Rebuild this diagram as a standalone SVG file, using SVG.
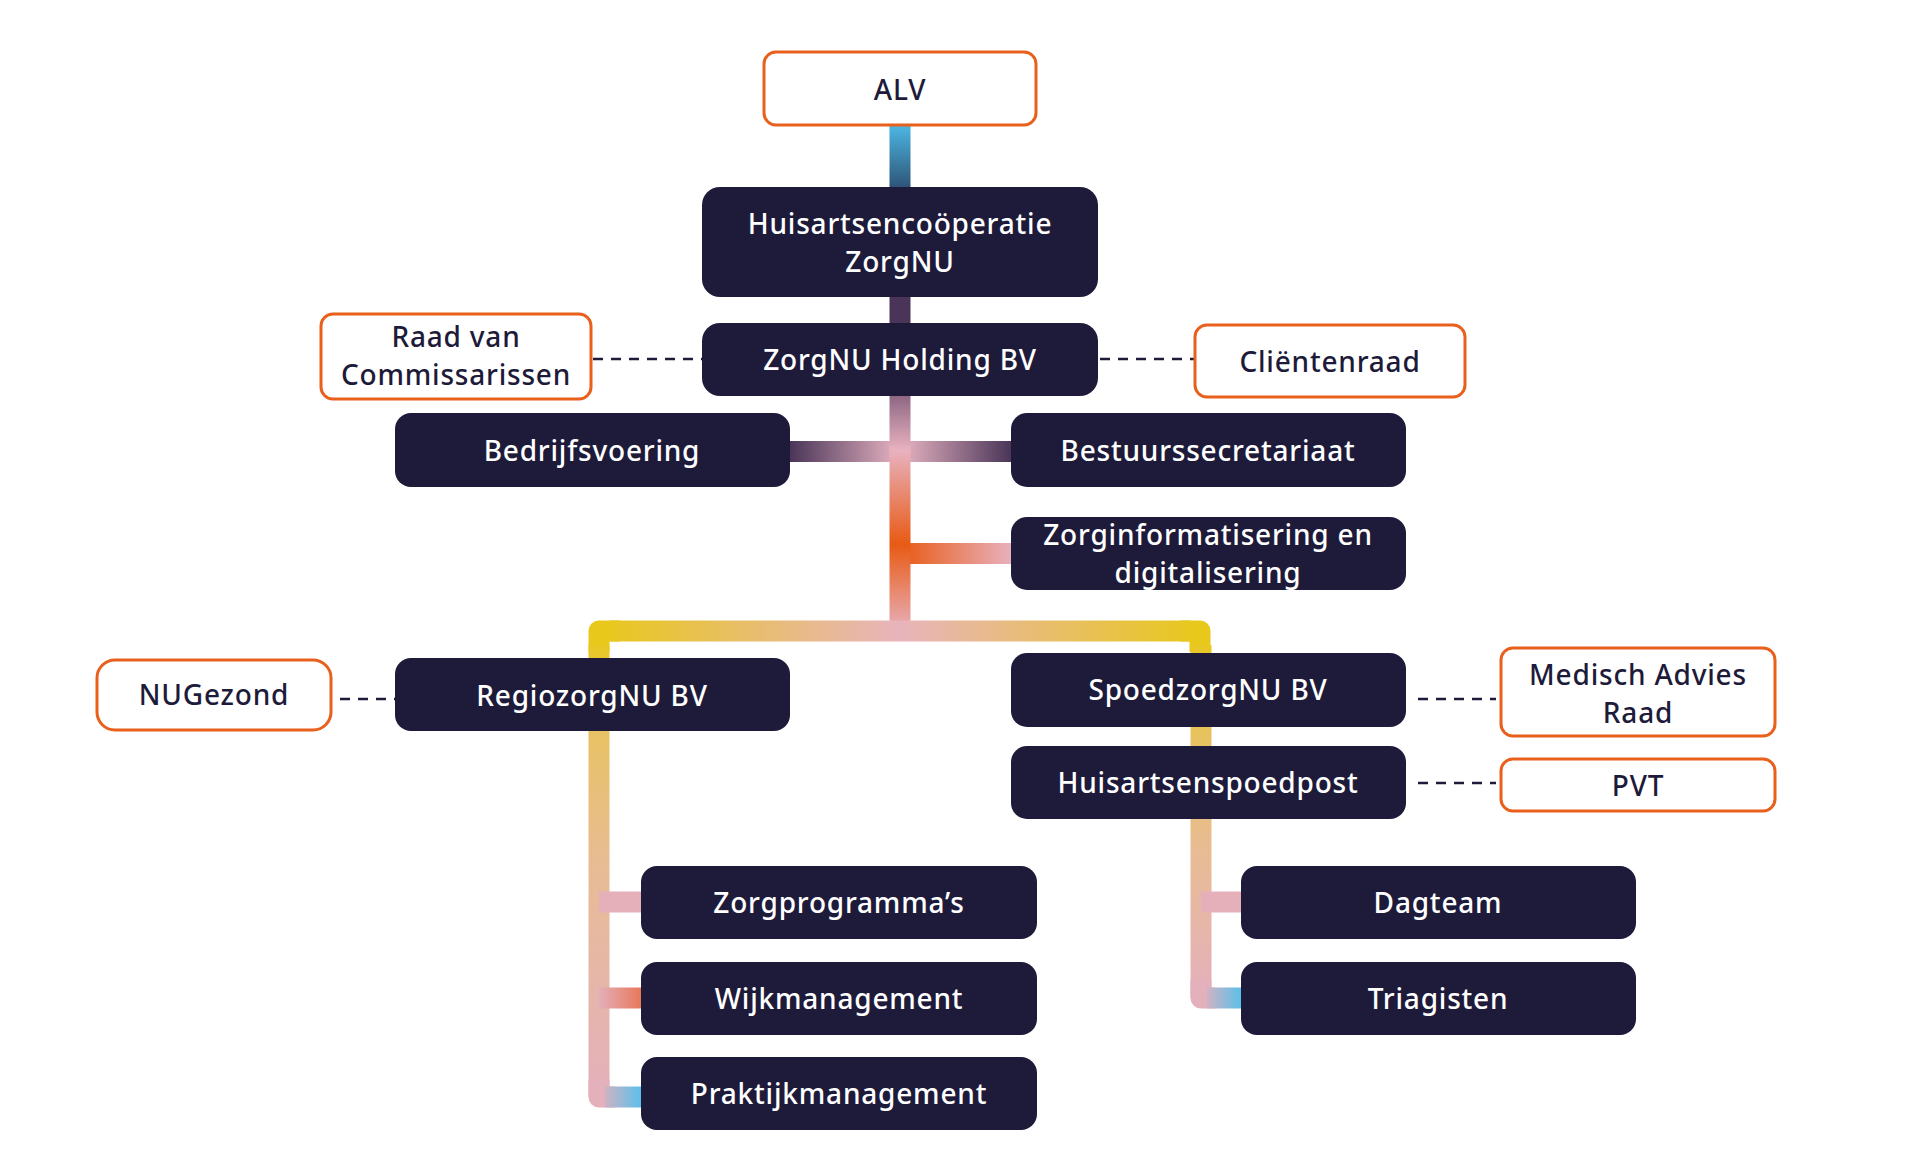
<svg xmlns="http://www.w3.org/2000/svg" width="1920" height="1174" viewBox="0 0 1920 1174">
<style>
.dark{fill:#1e1b3a}
.light{fill:#ffffff;stroke:#e8601c;stroke-width:3}
text{font-family:"Noto Sans","DejaVu Sans",sans-serif;font-size:28px;font-weight:500;letter-spacing:0.8px;text-anchor:middle;dominant-baseline:central}
.tw{fill:#ffffff}
.td{fill:#1e1b3a}
.dash{stroke:#1e1b3a;stroke-width:2.5;stroke-dasharray:10 8;fill:none}
.c{fill:none;stroke-width:21}
</style>
<defs>
<linearGradient id="gAlv" gradientUnits="userSpaceOnUse" x1="0" y1="126" x2="0" y2="187"><stop offset="0" stop-color="#4cb6e2"/><stop offset="1" stop-color="#2e5578"/></linearGradient>
<linearGradient id="gTrunk" gradientUnits="userSpaceOnUse" x1="0" y1="396" x2="0" y2="631"><stop offset="0" stop-color="#8e6784"/><stop offset="0.23" stop-color="#e8b2c0"/><stop offset="0.63" stop-color="#e85a14"/><stop offset="1" stop-color="#e8b0bc"/></linearGradient>
<linearGradient id="gBar" gradientUnits="userSpaceOnUse" x1="790" y1="0" x2="1011" y2="0"><stop offset="0" stop-color="#4a3558"/><stop offset="0.5" stop-color="#e8b4c2"/><stop offset="1" stop-color="#4a3558"/></linearGradient>
<linearGradient id="gInfo" gradientUnits="userSpaceOnUse" x1="900" y1="0" x2="1011" y2="0"><stop offset="0" stop-color="#e85a14"/><stop offset="1" stop-color="#e8b0bc"/></linearGradient>
<linearGradient id="gBus" gradientUnits="userSpaceOnUse" x1="599" y1="0" x2="1200" y2="0"><stop offset="0" stop-color="#e8c81a"/><stop offset="0.5" stop-color="#e8b4bc"/><stop offset="1" stop-color="#e8c81a"/></linearGradient>
<linearGradient id="gLeft" gradientUnits="userSpaceOnUse" x1="0" y1="631" x2="0" y2="1097"><stop offset="0" stop-color="#e8c81a"/><stop offset="0.2" stop-color="#e8c262"/><stop offset="0.5" stop-color="#e8bc94"/><stop offset="1" stop-color="#e4b0bc"/></linearGradient>
<linearGradient id="gRight" gradientUnits="userSpaceOnUse" x1="0" y1="631" x2="0" y2="998"><stop offset="0" stop-color="#e8c81a"/><stop offset="0.3" stop-color="#e8c262"/><stop offset="0.6" stop-color="#e8bc94"/><stop offset="1" stop-color="#e4b0bc"/></linearGradient>
<linearGradient id="gWijk" gradientUnits="userSpaceOnUse" x1="598" y1="0" x2="641" y2="0"><stop offset="0" stop-color="#e4b0bc"/><stop offset="1" stop-color="#e8785a"/></linearGradient>
<linearGradient id="gPrak" gradientUnits="userSpaceOnUse" x1="598" y1="0" x2="641" y2="0"><stop offset="0" stop-color="#e4b0bc"/><stop offset="1" stop-color="#5bc0ea"/></linearGradient>
<linearGradient id="gTria" gradientUnits="userSpaceOnUse" x1="1201" y1="0" x2="1241" y2="0"><stop offset="0" stop-color="#e4b0bc"/><stop offset="1" stop-color="#5bc0ea"/></linearGradient>
</defs>
<g id="connectors">
<line class="c" x1="900" y1="124" x2="900" y2="189" stroke="url(#gAlv)"/>
<line class="c" x1="900" y1="295" x2="900" y2="325" stroke="#4a3558"/>
<line class="c" x1="788" y1="451.5" x2="1013" y2="451.5" stroke="url(#gBar)"/>
<line class="c" x1="900" y1="553.5" x2="1013" y2="553.5" stroke="url(#gInfo)"/>
<line class="c" x1="900" y1="394" x2="900" y2="631" stroke="url(#gTrunk)"/>
<path class="c" d="M 620 631 H 599 V 652" stroke="#e8c81a" stroke-linejoin="round"/>
<path class="c" d="M 1180 631 H 1200 V 652" stroke="#e8c81a" stroke-linejoin="round"/>
<line class="c" x1="610" y1="631" x2="1190" y2="631" stroke="url(#gBus)"/>
<line class="c" x1="599" y1="645" x2="599" y2="1097" stroke="url(#gLeft)"/>
<line class="c" x1="1201" y1="645" x2="1201" y2="998" stroke="url(#gRight)"/>
<line class="c" x1="599" y1="902" x2="643" y2="902" stroke="#e6b0ba"/>
<line class="c" x1="599" y1="998" x2="643" y2="998" stroke="url(#gWijk)"/>
<path class="c" d="M 599 1080 V 1097 H 615" stroke="#e4b0bc" stroke-linejoin="round"/>
<line class="c" x1="605" y1="1097" x2="643" y2="1097" stroke="url(#gPrak)"/>
<line class="c" x1="1201" y1="902" x2="1243" y2="902" stroke="#e6b0ba"/>
<path class="c" d="M 1201 980 V 998 H 1215" stroke="#e4b0bc" stroke-linejoin="round"/>
<line class="c" x1="1207" y1="998" x2="1243" y2="998" stroke="url(#gTria)"/>
<line class="dash" x1="593" y1="359" x2="702" y2="359"/>
<line class="dash" x1="1100" y1="359" x2="1195" y2="359"/>
<line class="dash" x1="340" y1="699" x2="395" y2="699"/>
<line class="dash" x1="1418" y1="699" x2="1496" y2="699"/>
<line class="dash" x1="1418" y1="783" x2="1496" y2="783"/>
</g>
<g id="n-alv"><rect class="light" x="764" y="52" width="272" height="73" rx="12"/><text class="td" x="900" y="89">ALV</text></g>
<g id="n-coop"><rect class="dark" x="702" y="187" width="396" height="110" rx="18"/><text class="tw" x="900" y="223">Huisartsencoöperatie</text><text class="tw" x="900" y="261">ZorgNU</text></g>
<g id="n-holding"><rect class="dark" x="702" y="323" width="396" height="73" rx="18"/><text class="tw" x="900" y="359">ZorgNU Holding BV</text></g>
<g id="n-rvc"><rect class="light" x="321" y="314" width="270" height="85" rx="12"/><text class="td" x="456" y="336">Raad van</text><text class="td" x="456" y="374">Commissarissen</text></g>
<g id="n-client"><rect class="light" x="1195" y="325" width="270" height="72" rx="12"/><text class="td" x="1330" y="361">Cliëntenraad</text></g>
<g id="n-bedrijf"><rect class="dark" x="395" y="413" width="395" height="74" rx="16"/><text class="tw" x="592" y="450">Bedrijfsvoering</text></g>
<g id="n-bestuur"><rect class="dark" x="1011" y="413" width="395" height="74" rx="16"/><text class="tw" x="1208" y="450">Bestuurssecretariaat</text></g>
<g id="n-zorginfo"><rect class="dark" x="1011" y="517" width="395" height="73" rx="16"/><text class="tw" x="1208" y="534">Zorginformatisering en</text><text class="tw" x="1208" y="572">digitalisering</text></g>
<g id="n-nugezond"><rect class="light" x="97" y="660" width="234" height="70" rx="18"/><text class="td" x="214" y="694">NUGezond</text></g>
<g id="n-regio"><rect class="dark" x="395" y="658" width="395" height="73" rx="16"/><text class="tw" x="592" y="695">RegiozorgNU BV</text></g>
<g id="n-spoed"><rect class="dark" x="1011" y="653" width="395" height="74" rx="16"/><text class="tw" x="1208" y="689">SpoedzorgNU BV</text></g>
<g id="n-hap"><rect class="dark" x="1011" y="746" width="395" height="73" rx="16"/><text class="tw" x="1208" y="782">Huisartsenspoedpost</text></g>
<g id="n-mar"><rect class="light" x="1501" y="648" width="274" height="88" rx="12"/><text class="td" x="1638" y="674">Medisch Advies</text><text class="td" x="1638" y="712">Raad</text></g>
<g id="n-pvt"><rect class="light" x="1501" y="759" width="274" height="52" rx="12"/><text class="td" x="1638" y="785">PVT</text></g>
<g id="n-zorgprog"><rect class="dark" x="641" y="866" width="396" height="73" rx="16"/><text class="tw" x="839" y="902">Zorgprogramma’s</text></g>
<g id="n-wijk"><rect class="dark" x="641" y="962" width="396" height="73" rx="16"/><text class="tw" x="839" y="998">Wijkmanagement</text></g>
<g id="n-praktijk"><rect class="dark" x="641" y="1057" width="396" height="73" rx="16"/><text class="tw" x="839" y="1093">Praktijkmanagement</text></g>
<g id="n-dagteam"><rect class="dark" x="1241" y="866" width="395" height="73" rx="16"/><text class="tw" x="1438" y="902">Dagteam</text></g>
<g id="n-triage"><rect class="dark" x="1241" y="962" width="395" height="73" rx="16"/><text class="tw" x="1438" y="998">Triagisten</text></g>
</svg>
